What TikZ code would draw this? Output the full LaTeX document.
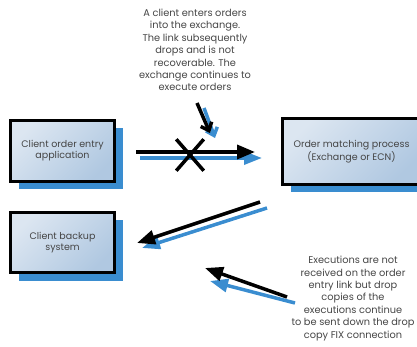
\documentclass[tikz,border=0pt]{standalone}
\usepackage{fontspec}
\setmainfont{Poppins}
\usetikzlibrary{arrows.meta,shapes.misc,shadows}
\definecolor{fixblue}{HTML}{3A8DD0}
\definecolor{boxlight}{HTML}{DCE6F1}
\definecolor{boxdark}{HTML}{B0C8E1}
\definecolor{textgray}{HTML}{454545}
\tikzset{
	box/.style={draw=black, line width=3.5pt, top color=boxlight, bottom color=boxdark, shading angle=45,
		align=center, text=textgray, font=\fontsize{9.5}{11}\selectfont,
		drop shadow={shadow xshift=8pt, shadow yshift=-8pt, fill=fixblue, opacity=1, draw=none}},
	note/.style={align=center, text=textgray, font=\fontsize{9.8}{12.4}\selectfont},
	bk/.style={draw=black, line width=3.5pt, -{Triangle[length=18pt,width=14pt]}},
	bl/.style={draw=fixblue, line width=3.5pt, -{Triangle[length=18pt,width=13pt]}},
	sbk/.style={draw=black, line width=3.5pt, -{Straight Barb[length=7pt,width=12pt]}},
	sbl/.style={draw=fixblue, line width=3.5pt, -{Straight Barb[length=7pt,width=12pt]}}
}
\begin{document}
\begin{tikzpicture}[x=1pt,y=-1pt]
			\useasboundingbox (0,0) rectangle (417,347);
			\node[box, minimum width=104pt, minimum height=61pt] (C0) at (62.5,151) {Client order entry\\application};
			\node[box, minimum width=138pt, minimum height=66pt] (M0) at (351.5,151.5) {Order matching process\\(Exchange or ECN)};
			\node[box, minimum width=104pt, minimum height=60pt] (B0) at (62.5,242.5) {Client backup\\system};
			\node[note] (T0) at (195,50) {A client enters orders\\into the exchange.\\The link subsequently\\drops and is not\\recoverable. The\\exchange continues to\\execute orders};
			\node[note] (T1) at (353,298.5) {Executions are not\\received on the order\\entry link but drop\\copies of the\\executions continue\\to be sent down the drop\\copy FIX connection};
			\coordinate (P0) at (136,152);
			\coordinate (P1) at (255,152);
			\coordinate (Q0) at (140,158);
			\coordinate (Q1) at (262,158);
			\coordinate (P2) at (197,103);
			\coordinate (P3) at (210,133);
			\coordinate (Q2) at (204,108);
			\coordinate (Q3) at (215,138);
			\coordinate (P4) at (260,202);
			\coordinate (P5) at (137,243);
			\coordinate (Q4) at (267,208);
			\coordinate (Q5) at (142,248);
			\coordinate (P6) at (287,297);
			\coordinate (P7) at (205,268);
			\coordinate (Q6) at (295,303);
			\coordinate (Q7) at (210,281);
			\draw[bl] (Q0) -- (Q1);
			\draw[bk] (P0) -- (P1);
			\draw[sbl] (Q2) -- (Q3);
			\draw[sbk] (P2) -- (P3);
			\draw[bl] (Q4) -- (Q5);
			\draw[bk] (P4) -- (P5);
			\draw[bl] (Q6) -- (Q7);
			\draw[bk] (P6) -- (P7);
			\node[cross out, draw=black, line width=3.5pt, minimum width=24pt, minimum height=28pt, inner sep=0pt] (X0) at (190,155) {};
		\end{tikzpicture}
\end{document}
